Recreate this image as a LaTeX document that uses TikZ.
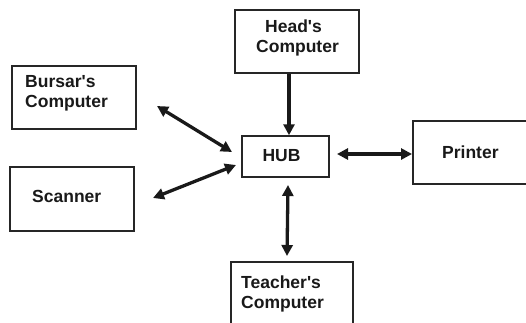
\documentclass[tikz,border=0pt]{standalone}
\usepackage{fontspec}
\setmainfont{Liberation Sans}[Ligatures=TeXOff]
\usetikzlibrary{arrows.meta}
\begin{document}
\begin{tikzpicture}[x=1pt,y=-1pt,
  box/.style={draw=black!85, line width=1.5pt, inner sep=0pt},
  lbl/.style={inner sep=0pt, font=\fontsize{17.5}{20}\selectfont\bfseries, text=black!90},
  link/.style={line width=3.3pt, black!90},
  tip/.style={-{Triangle[length=11pt,width=11pt]}},
  tips/.style={{Triangle[length=11pt,width=11pt]}-{Triangle[length=11pt,width=11pt]}}]
\useasboundingbox (0,0) rectangle (526,322);
% boxes
\node[box, minimum width=124pt, minimum height=63pt] (bursar) at (74,97.5) {};
\node[box, minimum width=124pt, minimum height=64pt] (scanner) at (72,199) {};
\node[box, minimum width=124pt, minimum height=63pt] (head) at (297,41.5) {};
\node[box, minimum width=87pt, minimum height=41pt] (hub) at (285.5,156.5) {};
\node[box, minimum width=130pt, minimum height=63pt] (printer) at (478,152.5) {};
\node[box, minimum width=122pt, minimum height=80pt] (teacher) at (292,302) {};
% labels
\node[lbl, anchor=base west] (tb1) at (25,87) {Bursar's};
\node[lbl, anchor=base west] (tb2) at (25,107) {Computer};
\node[lbl, anchor=base west] (ts) at (32,202) {Scanner};
\node[lbl, anchor=base] (th1) at (293.5,32) {Head's};
\node[lbl, anchor=base] (th2) at (297.5,52) {Computer};
\node[lbl, anchor=base] (thub) at (281.5,161) {HUB};
\node[lbl, anchor=base west] (tp) at (442,158) {Printer};
\node[lbl, anchor=base west] (tt1) at (241,288) {Teacher's};
\node[lbl, anchor=base west] (tt2) at (241,308) {Computer};
% connector ends
\coordinate (b1) at (157,106);
\coordinate (b2) at (232,152);
\coordinate (s1) at (153,198);
\coordinate (s2) at (236,165);
\coordinate (t1) at (288,185);
\coordinate (t2) at (287,256);
\coordinate (p1) at (337,154);
\coordinate (p2) at (412,154);
% connectors
\draw[link, tip] (head.south -| 289,0) -- (hub.north -| 289,0);
\draw[link, tips] (b1) -- (b2);
\draw[link, tips] (s1) -- (s2);
\draw[link, tips] (t1) -- (t2);
\draw[link, tips] (p1) -- (p2);
\end{tikzpicture}
\end{document}
